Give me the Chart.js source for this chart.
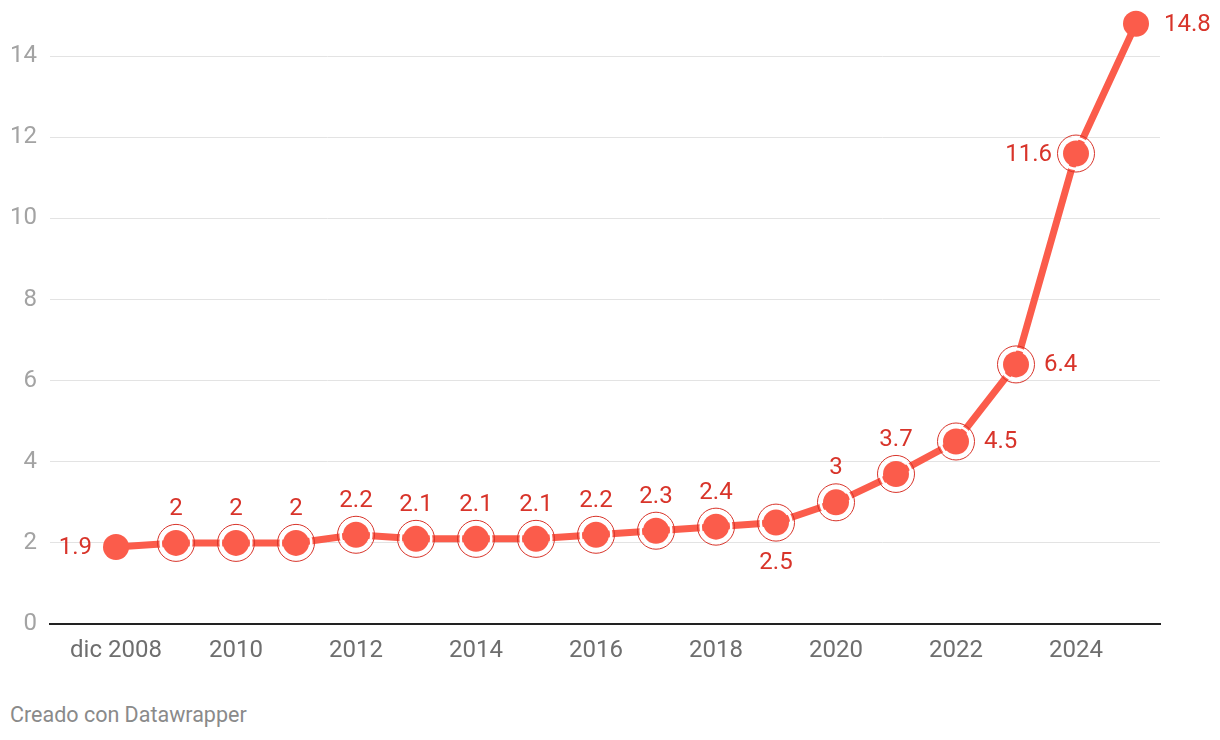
<!DOCTYPE html>
<html>
<head>
<meta charset="utf-8">
<style>
  html, body { margin: 0; padding: 0; background: #fff; }
  #wrap { position: absolute; left: 0; top: 0; width: 1220px; height: 690px; }
  #foot { position: absolute; left: 10px; top: 702px; font: 21.5px Roboto, sans-serif; color: #8a8a8a; }
</style>
<script src="https://cdn.jsdelivr.net/npm/chart.js@4"></script>
</head>
<body>
<div id="wrap"><canvas id="c" width="1220" height="690"></canvas></div>
<div id="foot">Creado con Datawrapper</div>
<script>
// ── DATOS ──────────────────────────────────────────────
var years   = ['dic 2008', '2009', '2010', '2011', '2012', '2013', '2014', '2015', '2016',
               '2017', '2018', '2019', '2020', '2021', '2022', '2023', '2024', '2025'];
var valores = [1.9, 2, 2, 2, 2.2, 2.1, 2.1, 2.1, 2.2, 2.3, 2.4, 2.5, 3, 3.7, 4.5, 6.4, 11.6, 14.8];
var xTicks  = [0, 2, 4, 6, 8, 10, 12, 14, 16];          // índices con etiqueta
var yTicks  = [0, 2, 4, 6, 8, 10, 12, 14];
// lado de la etiqueta de cada punto: l, t, r, b
var lado    = ['l', 't', 't', 't', 't', 't', 't', 't', 't', 't', 't', 'b', 't', 't', 'r', 'r', 'l', 'r'];

var ROJO   = '#fb5c4b';
var TEXTO  = '#d8342a';
var FUENTE = 'Roboto, sans-serif';

var pts = valores.map(function (v, i) { return { x: i, y: v }; });
var ultimo = valores.length - 1;
function haloR(r) { return valores.map(function (v, i) { return (i === 0 || i === ultimo) ? 0 : r; }); }

// ── ETIQUETAS DE VALOR ─────────────────────────────────
var etiquetas = {
  id: 'etiquetas',
  afterDatasetsDraw: function (chart) {
    var ctx = chart.ctx;
    var meta = chart.getDatasetMeta(0);
    ctx.save();
    ctx.font = '24px ' + FUENTE;
    ctx.fillStyle = TEXTO;
    ctx.textBaseline = 'middle';
    meta.data.forEach(function (p, i) {
      var s = lado[i], txt = String(valores[i]);
      if (s === 't') { ctx.textAlign = 'center'; ctx.fillText(txt, p.x, p.y - 34); }
      else if (s === 'b') { ctx.textAlign = 'center'; ctx.fillText(txt, p.x, p.y + 40); }
      else if (s === 'r') { ctx.textAlign = 'left'; ctx.fillText(txt, p.x + 28, p.y + 1); }
      else { ctx.textAlign = 'right'; ctx.fillText(txt, p.x - 24, p.y + 1); }
    });
    ctx.restore();
  }
};

new Chart(document.getElementById('c').getContext('2d'), {
  type: 'line',
  data: {
    datasets: [
      {
        data: pts, order: 3, clip: false,
        borderColor: ROJO, borderWidth: 7,
        pointRadius: 13, pointBackgroundColor: ROJO, pointBorderWidth: 0,
        pointHoverRadius: 13
      },
      {
        data: pts, order: 2, clip: false, showLine: false,
        pointRadius: haloR(15.3), pointBorderWidth: 2.6, pointBorderColor: '#ffffff',
        pointBackgroundColor: 'rgba(0,0,0,0)'
      },
      {
        data: pts, order: 1, clip: false, showLine: false,
        pointRadius: haloR(18.5), pointBorderWidth: 1, pointBorderColor: TEXTO,
        pointBackgroundColor: 'rgba(0,0,0,0)'
      }
    ]
  },
  options: {
    responsive: false,
    animation: false,
    events: [],
    layout: { padding: { left: 0, right: 60, top: 0, bottom: 0 } },
    plugins: { legend: { display: false }, tooltip: { enabled: false } },
    scales: {
      x: {
        type: 'linear', min: -1.1, max: 17.4,
        afterBuildTicks: function (s) { s.ticks = xTicks.map(function (v) { return { value: v }; }); },
        afterFit: function (s) { s.height = 66; },
        grid: { display: false, drawTicks: false },
        border: { display: true, color: '#222', width: 2 },
        ticks: {
          padding: 13, color: '#6e6e6e', font: { family: FUENTE, size: 24 },
          maxRotation: 0, autoSkip: false,
          callback: function (v) { return years[v]; }
        }
      },
      y: {
        min: 0, max: 14.71,
        afterBuildTicks: function (s) { s.ticks = yTicks.map(function (v) { return { value: v }; }); },
        afterFit: function (s) { s.width = 50; },
        grid: {
          drawTicks: false, lineWidth: 1,
          color: function (c) { return c.tick && c.tick.value === 0 ? 'rgba(0,0,0,0)' : '#e3e3e3'; }
        },
        border: { display: false },
        ticks: { padding: 13, color: '#a3a3a3', font: { family: FUENTE, size: 24 } }
      }
    }
  },
  plugins: [etiquetas]
});
</script>
</body>
</html>
